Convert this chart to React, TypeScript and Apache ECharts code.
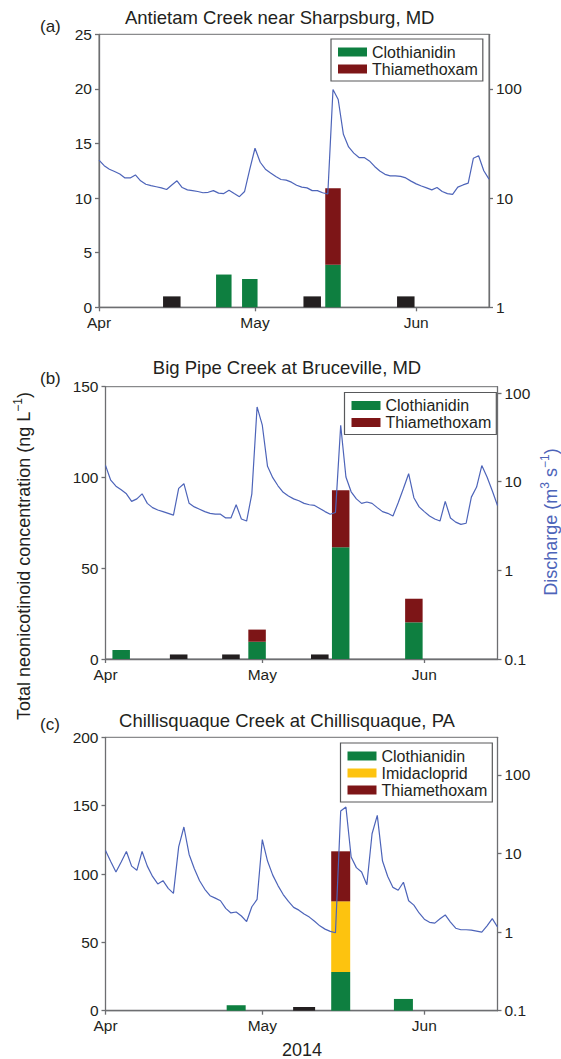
import React, { useEffect, useRef } from "react";
import * as echarts from "echarts";

// ---------- DATA ----------
const N_DAYS = 76; // 1 Apr 2014 .. 15 Jun 2014
const START = Date.UTC(2014, 3, 1);
const dayCategories: string[] = Array.from({ length: N_DAYS }, (_, i) =>
  new Date(START + i * 86400000).toISOString().slice(0, 10)
);
const monthTickDays = [0, 30, 61];
const monthNames = ["Apr", "May", "Jun"];

// Panel (a) Antietam Creek
const aSampleDays = [14, 24, 29, 41, 45, 59];
const aClothianidin = [0, 3.0, 2.6, 0, 3.9, 0];
const aThiamethoxam = [0, 0, 0, 0, 7.0, 0];
const aNotDetected = [1, 0, 0, 1, 0, 1];
const aDischarge = [
  22.3, 19.8, 18.4, 17.5, 16.6, 15.3, 15.3, 16.3, 14.4, 13.4,
  13.0, 12.7, 12.4, 12.0, 13.2, 14.4, 12.5, 11.9, 11.7, 11.5,
  11.2, 11.3, 11.7, 11.1, 11.0, 11.8, 11.0, 10.3, 11.5, 18.4,
  28.6, 21.3, 18.4, 17.0, 15.8, 14.8, 14.6, 14.0, 13.1, 12.6,
  12.4, 11.7, 11.7, 11.2, 10.9, 98.6, 80.0, 38.4, 29.4, 25.8,
  23.5, 23.5, 21.9, 19.5, 17.7, 16.5, 16.0, 16.0, 15.8, 15.3,
  14.3, 13.5, 12.9, 12.4, 11.9, 12.5, 11.5, 11.0, 10.8, 12.6,
  13.2, 13.7, 23.2, 24.4, 17.8, 14.9,
];

// Panel (b) Big Pipe Creek
const bSampleDays = [3, 14, 24, 29, 41, 45, 59];
const bClothianidin = [5.0, 0, 0, 9.5, 0, 61.5, 20.2];
const bThiamethoxam = [0, 0, 0, 6.7, 0, 31.5, 13.0];
const bNotDetected = [0, 2.5, 2.5, 0, 2.5, 0, 0];
const bDischarge = [
  15.3, 10.4, 8.9, 8.1, 7.3, 6.0, 6.4, 7.3, 5.7, 5.1,
  4.8, 4.6, 4.4, 4.2, 8.4, 9.5, 5.7, 5.2, 4.9, 4.6,
  4.4, 4.3, 4.3, 3.9, 3.9, 5.5, 3.8, 3.6, 7.3, 69.8,
  43.4, 14.9, 11.1, 9.0, 7.6, 6.9, 6.4, 6.1, 5.7, 5.5,
  5.4, 5.0, 4.6, 4.3, 4.5, 43.4, 11.3, 7.7, 6.4, 5.7,
  5.9, 5.7, 5.1, 4.6, 4.4, 4.1, 5.8, 8.4, 12.3, 6.6,
  5.2, 4.6, 4.1, 3.8, 3.6, 6.0, 3.9, 3.5, 3.3, 3.4,
  6.7, 8.7, 15.2, 11.3, 7.9, 5.4,
];

// Panel (c) Chillisquaque Creek
const cSampleDays = [25, 38, 45, 57];
const cClothianidin = [4.0, 0, 28.3, 8.6];
const cImidacloprid = [0, 0, 51.7, 0];
const cThiamethoxam = [0, 0, 36.6, 0];
const cNotDetected = [0, 2.7, 0, 0];
const cDischarge = [
  10.9, 7.9, 5.8, 7.8, 10.6, 6.9, 6.1, 10.6, 6.9, 5.1,
  4.1, 4.5, 3.6, 3.1, 12.1, 21.7, 9.7, 6.4, 4.5, 3.5,
  2.9, 2.7, 2.5, 2.0, 1.75, 1.8, 1.6, 1.36, 2.1, 2.6,
  15.0, 8.0, 5.3, 3.9, 3.0, 2.45, 2.06, 1.9, 1.7, 1.55,
  1.37, 1.2, 1.09, 1.02, 0.98, 34.7, 39.0, 9.0, 6.6, 5.8,
  4.0, 17.8, 30.5, 8.0, 5.1, 3.7, 3.4, 4.3, 2.5, 2.2,
  1.75, 1.46, 1.33, 1.30, 1.48, 1.65, 1.34, 1.12, 1.07, 1.07,
  1.06, 1.03, 1.0, 1.2, 1.48, 1.16,
];

const titles = [
  "Antietam Creek near Sharpsburg, MD",
  "Big Pipe Creek at Bruceville, MD",
  "Chillisquaque Creek at Chillisquaque, PA",
];
const panelLetters = ["(a)", "(b)", "(c)"];
const leftAxisMax = [25, 150, 200];
const leftAxisInterval = [5, 50, 50];
const rightAxisMin = [1, 0.1, 0.1];
const rightAxisMax = [316.2, 118, 300];
const rightAxisTicks = [
  [1, 10, 100],
  [0.1, 1, 10, 100],
  [0.1, 1, 10, 100],
];

// ---------- STYLE ----------
const FONT = '"Liberation Sans", Arial, Helvetica, sans-serif';
const TEXT = "#231f20";
const AXIS = "#6d6e71";
const GREEN = "#0e7f40";
const YELLOW = "#fdc30f";
const RED = "#7d1517";
const BLACK = "#231f20";
const BLUE = "#4d64b9";

const grids = [
  { left: 99, top: 34.3, width: 390, height: 273 },
  { left: 105.5, top: 386.7, width: 392, height: 272.3 },
  { left: 105.5, top: 737.3, width: 392, height: 273.4 },
];
const barWidths = [15.5, 17.5, 19];
const ndWidths = [17.5, 17.6, 22];
const legendPos = [
  { left: 331, top: 39 },
  { left: 344.5, top: 392.5 },
  { left: 340.5, top: 743 },
];
const titlePos = [
  { x: 279.7, y: 17 },
  { x: 287, y: 367 },
  { x: 287, y: 720.5 },
];
const letterPos = [
  { x: 40, y: 26 },
  { x: 40, y: 378 },
  { x: 40, y: 724.5 },
];

function spread(days: number[], vals: number[]) {
  const arr: (number | null)[] = new Array(N_DAYS).fill(null);
  days.forEach((d, i) => {
    if (vals[i]) arr[d] = vals[i];
  });
  return arr;
}

const panels = [
  {
    compounds: [
      { name: "Clothianidin", color: GREEN, values: spread(aSampleDays, aClothianidin) },
      { name: "Thiamethoxam", color: RED, values: spread(aSampleDays, aThiamethoxam) },
    ],
    nd: spread(aSampleDays, aNotDetected),
    discharge: aDischarge,
  },
  {
    compounds: [
      { name: "Clothianidin", color: GREEN, values: spread(bSampleDays, bClothianidin) },
      { name: "Thiamethoxam", color: RED, values: spread(bSampleDays, bThiamethoxam) },
    ],
    nd: spread(bSampleDays, bNotDetected),
    discharge: bDischarge,
  },
  {
    compounds: [
      { name: "Clothianidin", color: GREEN, values: spread(cSampleDays, cClothianidin) },
      { name: "Imidacloprid", color: YELLOW, values: spread(cSampleDays, cImidacloprid) },
      { name: "Thiamethoxam", color: RED, values: spread(cSampleDays, cThiamethoxam) },
    ],
    nd: spread(cSampleDays, cNotDetected),
    discharge: cDischarge,
  },
];

function buildOption(): any {
  const isMonth = (idx: number) => monthTickDays.indexOf(idx) >= 0;
  const grid: any[] = grids.map((g) => ({
    ...g,
    show: true,
    borderColor: AXIS,
    borderWidth: 1,
    backgroundColor: "transparent",
    containLabel: false,
    outerBoundsMode: "none",
  }));

  const xAxis: any[] = [];
  grids.forEach((_, i) => {
    xAxis.push({
      type: "category",
      gridIndex: i,
      data: dayCategories,
      boundaryGap: false,
      axisLine: { show: true, lineStyle: { color: AXIS, width: 1.3 } },
      axisTick: {
        show: true,
        interval: (idx: number) => isMonth(idx),
        length: 4,
        lineStyle: { color: AXIS, width: 1.3 },
      },
      axisLabel: {
        show: true,
        interval: (idx: number) => isMonth(idx),
        formatter: (_v: string, idx: number) => monthNames[monthTickDays.indexOf(idx)] ?? "",
        fontSize: 15.5,
        fontFamily: FONT,
        color: TEXT,
        margin: 7,
      },
      splitLine: { show: false },
    });
  });
  // hidden axes for the "not detected" markers (own bar width)
  grids.forEach((_, i) => {
    xAxis.push({
      type: "category",
      gridIndex: i,
      data: dayCategories,
      boundaryGap: false,
      show: false,
    });
  });

  const yAxis: any[] = [];
  grids.forEach((_, i) => {
    yAxis.push({
      type: "value",
      gridIndex: i,
      position: "left",
      min: 0,
      max: leftAxisMax[i],
      interval: leftAxisInterval[i],
      axisLine: { show: true, lineStyle: { color: AXIS, width: 1.3 } },
      axisTick: { show: true, length: 4, lineStyle: { color: AXIS, width: 1.3 } },
      axisLabel: { fontSize: 15.5, fontFamily: FONT, color: TEXT, margin: 7 },
      splitLine: { show: false },
    });
    yAxis.push({
      type: "log",
      logBase: 10,
      gridIndex: i,
      position: "right",
      min: rightAxisMin[i],
      max: rightAxisMax[i],
      axisLine: { show: true, lineStyle: { color: AXIS, width: 1.3 } },
      axisTick: {
        show: true,
        length: 4,
        customValues: rightAxisTicks[i],
        lineStyle: { color: AXIS, width: 1.3 },
      },
      axisLabel: {
        customValues: rightAxisTicks[i],
        fontSize: 15.5,
        fontFamily: FONT,
        color: TEXT,
        margin: 7,
        formatter: (v: number) => String(v),
      },
      minorTick: { show: false },
      splitLine: { show: false },
    });
  });

  const series: any[] = [];
  panels.forEach((p, i) => {
    p.compounds.forEach((c) => {
      series.push({
        type: "bar",
        name: c.name,
        xAxisIndex: i,
        yAxisIndex: 2 * i,
        stack: "panel" + i,
        barWidth: barWidths[i],
        data: c.values,
        itemStyle: { color: c.color },
        z: 2,
      });
    });
    series.push({
      type: "bar",
      name: "Not detected",
      xAxisIndex: 3 + i,
      yAxisIndex: 2 * i,
      barWidth: ndWidths[i],
      data: p.nd,
      itemStyle: { color: BLACK },
      z: 2,
    });
    series.push({
      type: "line",
      name: "Discharge",
      xAxisIndex: i,
      yAxisIndex: 2 * i + 1,
      data: p.discharge,
      showSymbol: false,
      symbol: "none",
      lineStyle: { color: BLUE, width: 1.2 },
      z: 5,
    });
  });

  const legend: any[] = panels.map((p, i) => ({
    ...legendPos[i],
    orient: "vertical",
    data: p.compounds.map((c) => c.name),
    icon: "rect",
    itemWidth: 29,
    itemHeight: 9,
    itemGap: 1,
    padding: [5, 5, 4, 7],
    borderColor: "#58595b",
    borderWidth: 1.2,
    backgroundColor: "#fff",
    selectedMode: false,
    textStyle: { fontSize: 16, fontFamily: FONT, color: TEXT, lineHeight: 16 },
    z: 10,
  }));

  const graphic: any[] = [];
  titles.forEach((t, i) => {
    graphic.push({
      type: "text",
      x: titlePos[i].x,
      y: titlePos[i].y,
      style: {
        text: t,
        fontSize: 18.5,
        fontFamily: FONT,
        fill: TEXT,
        align: "center",
        verticalAlign: "middle",
      },
    });
    graphic.push({
      type: "text",
      x: letterPos[i].x,
      y: letterPos[i].y,
      style: {
        text: panelLetters[i],
        fontSize: 17,
        fontFamily: FONT,
        fill: TEXT,
        align: "left",
        verticalAlign: "middle",
      },
    });
  });
  graphic.push({
    type: "text",
    x: 302,
    y: 1050,
    style: {
      text: "2014",
      fontSize: 18,
      fontFamily: FONT,
      fill: TEXT,
      align: "center",
      verticalAlign: "middle",
    },
  });
  graphic.push({
    type: "text",
    x: 24,
    y: 556,
    rotation: Math.PI / 2,
    style: {
      text: "Total neonicotinoid concentration (ng L{sup|\u22121})",
      fontSize: 18,
      fontFamily: FONT,
      fill: TEXT,
      lineHeight: 24,
      align: "center",
      verticalAlign: "middle",
      rich: {
        sup: { fontSize: 12, fontFamily: FONT, fill: TEXT, verticalAlign: "top", lineHeight: 24 },
      },
    },
  });
  graphic.push({
    type: "text",
    x: 551,
    y: 522,
    rotation: Math.PI / 2,
    style: {
      text: "Discharge (m{sup|3} s{sup|\u22121})",
      fontSize: 18,
      fontFamily: FONT,
      fill: BLUE,
      lineHeight: 24,
      align: "center",
      verticalAlign: "middle",
      rich: {
        sup: { fontSize: 12, fontFamily: FONT, fill: BLUE, verticalAlign: "top", lineHeight: 24 },
      },
    },
  });

  return {
    animation: false,
    backgroundColor: "#ffffff",
    grid,
    xAxis,
    yAxis,
    series,
    legend,
    graphic,
    tooltip: { show: false },
  };
}

export default function App() {
  const ref = useRef<HTMLDivElement>(null);
  useEffect(() => {
    if (!ref.current) return;
    const chart = echarts.init(ref.current, undefined, { renderer: "svg" });
    chart.setOption(buildOption());
    return () => chart.dispose();
  }, []);
  return (
    <div
      ref={ref}
      style={{ position: "absolute", left: 0, top: 0, width: 561, height: 1059, background: "#fff" }}
    />
  );
}
